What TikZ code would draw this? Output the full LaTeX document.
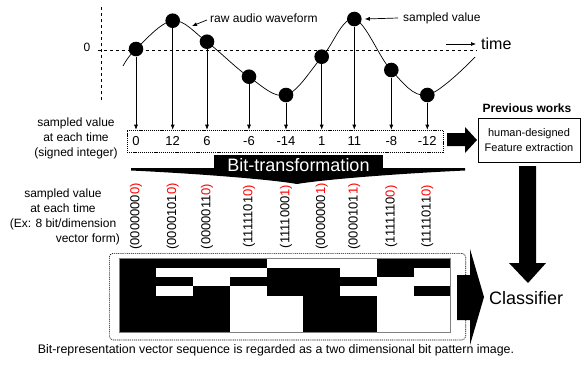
\documentclass[tikz,border=0pt]{standalone}
\usepackage{fontspec}
\setmainfont{Liberation Sans}
\usetikzlibrary{arrows.meta}
\begin{document}
\begin{tikzpicture}[x=1pt,y=-1pt,
  dot/.style={circle,fill=black,inner sep=0pt,minimum size=14.6pt},
  samp/.style={-{Latex[length=5pt,width=4pt]},line width=0.6pt},
  annot/.style={-{Latex[length=5pt,width=4pt]},line width=0.7pt},
  txt/.style={font=\fontsize{12}{15}\selectfont,inner sep=0pt},
  num/.style={font=\fontsize{13}{15}\selectfont,inner sep=0pt},
  bits/.style={font=\fontsize{13}{15}\selectfont,rotate=90,inner sep=0pt},
  dotbox/.style={draw,line width=0.6pt,dash pattern=on 1.2pt off 0.9pt,inner sep=0pt},
  block/.style={fill=black}]
\useasboundingbox (0,0) rectangle (582,365);

% axes
\draw[dashed,line width=0.6pt] (101,7) -- (101,100);
\draw[dashed,line width=0.6pt] (98,50) -- (477,50);
\node[txt] (zero) at (87,47) {0};

% waveform
\draw[line width=0.7pt] plot[smooth,tension=0.6] coordinates {(123,66) (136,49) (172.7,20.7) (207,42) (249,77) (286,95) (322,57) (354,19) (391,70) (427,95) (475,57)};

% sample dots
\foreach \n/\x/\y in {1/136/49,2/172.7/20.7,3/207/41.7,4/249/76.7,5/286/95,6/321.7/56.7,7/354.3/19,8/391.3/70,9/427.3/95}
  \node[dot] (d\n) at (\x,\y) {};

% labels on waveform
\node[txt,anchor=west] (raw) at (210,18) {raw audio waveform};
\coordinate (wv) at (192,26);
\draw[annot] ([shift={(-3,2)}]raw.west) -- (wv);
\node[txt,anchor=west] (sv) at (403,18) {sampled value};
\draw[annot] ([xshift=-5pt]sv.west) -- ([xshift=3pt]d7.east);
\node[anchor=west,inner sep=0pt,font=\fontsize{16}{18}\selectfont] (tm) at (481,44) {time};
\draw[annot] ([xshift=-35pt]tm.west) -- ([xshift=-5pt]tm.west);

% numbers box
\node[dotbox,minimum width=316pt,minimum height=22pt] (nb) at (285,141) {};
\foreach \n/\v in {1/0,2/12,3/6,4/-6,5/-14,6/1,7/11,8/-8,9/-12} {
  \node[num] (v\n) at (d\n |- nb) {\v};
  \draw[samp] (d\n.south) -- (d\n |- nb.north);
}
\node[txt,align=center] (lt1) at (76,138) {sampled value\\at each time\\(signed integer)};

% bit-transformation banner
\fill (214,155) rectangle (383,169);
\fill (131,168) -- (465,168) -- (465,170.5) .. controls (390,174) and (320,180) .. (297,184) .. controls (275,180) and (205,174) .. (131,170.5) -- cycle;
\node[anchor=base,inner sep=0pt,text=white,font=\fontsize{18}{20}\selectfont] (bt) at (298.5,171.5) {Bit-transformation};

% bit vectors
\coordinate (bitrow) at (0,216.5);
\foreach \n/\s/\e in {1/0000000/0,2/0000101/0,3/0000011/0,4/1111101/0,5/1111000/1,6/0000000/1,7/0000101/1,8/1111110/0,9/1111011/0}
  \node[bits] (bl\n) at (d\n |- bitrow) {(\s\textcolor{red}{\e)}};
\node[txt,align=center] (lt2) at (63,209.5) {sampled value\\at each time\\(Ex: 8 bit/dimension};
\node[txt,anchor=east] (lt3) at (120,239) {vector form)};

% bit pattern image
\node[dotbox,rounded corners=4pt,minimum width=356.4pt,minimum height=86.7pt] (ibox) at (287.5,296.65) {};
\fill[black] (119.3,258.3) rectangle (450.7,332.7);
\foreach \c/\rows in {1/{1,3},2/{1,2},3/{1,3,4,5,6,7},4/{0,4,5,6,7},5/{0},6/{0,1,3},7/{2,3,4,5,6,7},8/{1,2,4,5,6,7}}
  \foreach \r in \rows
    \fill[white] ({119.3+\c*36.82},{258.3+\r*9.3}) rectangle ({119.3+(\c+1)*36.82},{258.3+(\r+1)*9.3});
\node[draw=gray,line width=0.8pt,minimum width=331.4pt,minimum height=74.4pt,inner sep=0pt] (img) at (285,295.5) {};

% right side
\node[font=\bfseries\fontsize{12}{14}\selectfont,inner sep=0pt] (pw) at (527,108) {Previous works};
\node[draw,line width=0.6pt,minimum width=102pt,minimum height=44pt,align=center,inner sep=0pt,font=\fontsize{11}{15}\selectfont] (fe) at (529,140) {human-designed\\Feature extraction};
\node[anchor=west,inner sep=0pt,font=\fontsize{18}{20}\selectfont] (cls) at (489,298) {Classifier};

\fill (447,133) -- (465,133) -- (465,127) -- (477,140) -- (465,153) -- (465,146) -- (447,146) -- cycle;
\fill (519,166) -- (536,166) -- (536,263) -- (546,263) -- (528,283) -- (509,263) -- (519,263) -- cycle;
\fill (457,275) -- (470,275) -- (470,249) -- (484,297) -- (470,345) -- (470,320) -- (457,320) -- cycle;

% caption
\node[inner sep=0pt,font=\fontsize{12.4}{15}\selectfont] (cap) at (276,350) {Bit-representation vector sequence is regarded as a two dimensional bit pattern image.};
\end{tikzpicture}
\end{document}
